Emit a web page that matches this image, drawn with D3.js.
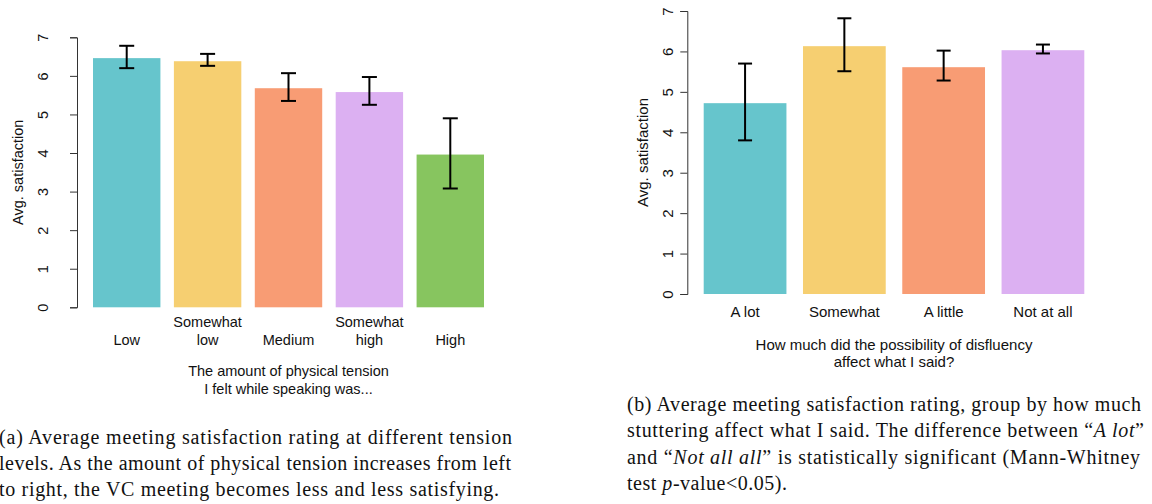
<!DOCTYPE html>
<html>
<head>
<meta charset="utf-8">
<script src="https://cdn.jsdelivr.net/npm/d3@7"></script>
<style>
  body { margin: 0; background: #fff; }
  svg { display: block; }
  .chart text { font-family: "Liberation Sans", Arial, sans-serif; fill: #111; }
  .caption { font-family: "Liberation Serif", serif; font-size: 20px; fill: #111; }
</style>
</head>
<body>
<svg width="1152" height="504"></svg>
<script>
// chart (a): physical tension
const tensionCats = ["Low", "Somewhat low", "Medium", "Somewhat high", "High"];
const tensionLabels = [["Low"], ["Somewhat", "low"], ["Medium"], ["Somewhat", "high"], ["High"]];
const tensionMeans = [6.46, 6.38, 5.68, 5.58, 3.96];
const tensionLo = [6.20, 6.26, 5.35, 5.25, 3.08];
const tensionHi = [6.78, 6.57, 6.07, 5.97, 4.90];

// chart (b): disfluency effect
const affectCats = ["A lot", "Somewhat", "A little", "Not at all"];
const affectMeans = [4.72, 6.13, 5.61, 6.03];
const affectLo = [3.80, 5.51, 5.28, 5.95];
const affectHi = [5.70, 6.82, 6.02, 6.17];

const yTicks = [0, 1, 2, 3, 4, 5, 6, 7];
const colors = ["#66C5CC", "#F6CF71", "#F89C74", "#DCB0F2", "#87C55F"];

const svg = d3.select("svg");

function drawChart(opt) {
	const g = svg.append("g").attr("class", "chart");
	const fs = opt.fontSize;

	const y = d3.scaleLinear().domain([0, 7]).range([opt.bottom, opt.top]);
	const x = d3.scaleBand()
			.domain(opt.cats)
			.range([opt.left, opt.right])
			.paddingInner(0.2 / 1.2)
			.paddingOuter(0);

	// bars
	g.selectAll("rect.bar")
			.data(opt.cats)
			.enter().append("rect")
			.attr("class", "bar")
			.attr("x", function(d) { return x(d); })
			.attr("width", x.bandwidth())
			.attr("y", function(d, i) { return y(opt.means[i]); })
			.attr("height", function(d, i) { return y(0) - y(opt.means[i]); })
			.style("fill", function(d, i) { return colors[i]; });

	// error bars
	const eb = g.selectAll("g.err")
			.data(opt.cats)
			.enter().append("g")
			.attr("class", "err")
			.attr("transform", function(d) { return "translate(" + (x(d) + x.bandwidth() / 2) + ",0)"; })
			.style("stroke", "#000")
			.style("stroke-width", 2);
	eb.append("line")
			.attr("y1", function(d, i) { return y(opt.lo[i]); })
			.attr("y2", function(d, i) { return y(opt.hi[i]); });
	eb.append("line")
			.attr("x1", -opt.cap).attr("x2", opt.cap)
			.attr("y1", function(d, i) { return y(opt.lo[i]); })
			.attr("y2", function(d, i) { return y(opt.lo[i]); });
	eb.append("line")
			.attr("x1", -opt.cap).attr("x2", opt.cap)
			.attr("y1", function(d, i) { return y(opt.hi[i]); })
			.attr("y2", function(d, i) { return y(opt.hi[i]); });

	// y axis, R style: rotated labels
	const axis = g.append("g")
			.attr("transform", "translate(" + opt.axisX + ",0)")
			.call(d3.axisLeft(y).tickValues(yTicks).tickSize(7).tickSizeOuter(7).tickFormat(d3.format("d")));
	axis.select(".domain").attr("stroke", "#333");
	axis.selectAll(".tick line").attr("stroke", "#333");
	axis.selectAll(".tick text")
			.attr("transform", "rotate(-90)")
			.attr("x", 0)
			.attr("y", -opt.tickLabelOffset)
			.attr("dy", 0)
			.attr("text-anchor", "middle")
			.style("font-family", "Liberation Sans, Arial, sans-serif")
			.style("font-size", fs + "px")
			.style("fill", "#111");

	g.append("text")
			.attr("transform", "translate(" + opt.yTitleX + "," + ((opt.top + opt.bottom) / 2) + ") rotate(-90)")
			.attr("text-anchor", "middle")
			.style("font-size", fs + "px")
			.text("Avg. satisfaction");

	// category labels
	const lab = g.selectAll("text.cat")
			.data(opt.labels)
			.enter().append("text")
			.attr("class", "cat")
			.attr("text-anchor", "middle")
			.style("font-size", fs + "px");
	lab.selectAll("tspan")
			.data(function(d, i) {
				return d.map(function(t, j) { return {t: t, j: j, n: d.length, c: opt.cats[i]}; });
			})
			.enter().append("tspan")
			.attr("x", function(d) { return x(d.c) + x.bandwidth() / 2; })
			.attr("y", function(d) { return opt.labelY - (d.n - 1 - d.j) * opt.lineH; })
			.text(function(d) { return d.t; });

	// x title
	const tt = g.append("text")
			.attr("text-anchor", "middle")
			.style("font-size", fs + "px");
	tt.selectAll("tspan")
			.data(opt.xTitle)
			.enter().append("tspan")
			.attr("x", (opt.left + opt.right) / 2)
			.attr("y", function(d, i) { return opt.xTitleY + i * opt.lineH; })
			.text(function(d) { return d; });
}

drawChart({
	cats: tensionCats, labels: tensionLabels,
	means: tensionMeans, lo: tensionLo, hi: tensionHi,
	left: 93, right: 484, top: 37.3, bottom: 307.3,
	axisX: 77, tickLabelOffset: 29, yTitleX: 23,
	fontSize: 14.5, lineH: 17.5, cap: 7.5,
	labelY: 344.5, xTitleY: 376,
	xTitle: ["The amount of physical tension", "I felt while speaking was..."]
});

drawChart({
	cats: affectCats, labels: affectCats.map(function(d) { return [d]; }),
	means: affectMeans, lo: affectLo, hi: affectHi,
	left: 703.7, right: 1084.3, top: 11, bottom: 294,
	axisX: 687.3, tickLabelOffset: 14, yTitleX: 648,
	fontSize: 15, lineH: 17.5, cap: 7,
	labelY: 317, xTitleY: 349.5,
	xTitle: ["How much did the possibility of disfluency", "affect what I said?"]
});

// captions (justified lines via textLength)
const capA = [
	{parts: [["(a) Average meeting satisfaction rating at different tension", false]], w: 513},
	{parts: [["levels. As the amount of physical tension increases from left", false]], w: 512},
	{parts: [["to right, the VC meeting becomes less and less satisfying.", false]], w: 500}
];
const capB = [
	{parts: [["(b) Average meeting satisfaction rating, group by how much", false]], w: 514},
	{parts: [["stuttering affect what I said. The difference between \u201C", false], ["A lot", true], ["\u201D", false]], w: 517},
	{parts: [["and \u201C", false], ["Not all all", true], ["\u201D is statistically significant (Mann-Whitney", false]], w: 513},
	{parts: [["test ", false], ["p", true], ["-value<0.05).", false]], w: 160}
];

function drawCaption(lines, x0, y0, lh) {
	const t = svg.selectAll(null)
			.data(lines)
			.enter().append("text")
			.attr("class", "caption")
			.attr("x", x0)
			.attr("y", function(d, i) { return y0 + i * lh; })
			.attr("textLength", function(d) { return d.w; })
			.attr("lengthAdjust", "spacing");
	t.selectAll("tspan")
			.data(function(d) { return d.parts; })
			.enter().append("tspan")
			.style("font-style", function(d) { return d[1] ? "italic" : "normal"; })
			.text(function(d) { return d[0]; });
}

drawCaption(capA, -1, 444, 26);
drawCaption(capB, 627, 411, 26.4);
</script>
</body>
</html>
